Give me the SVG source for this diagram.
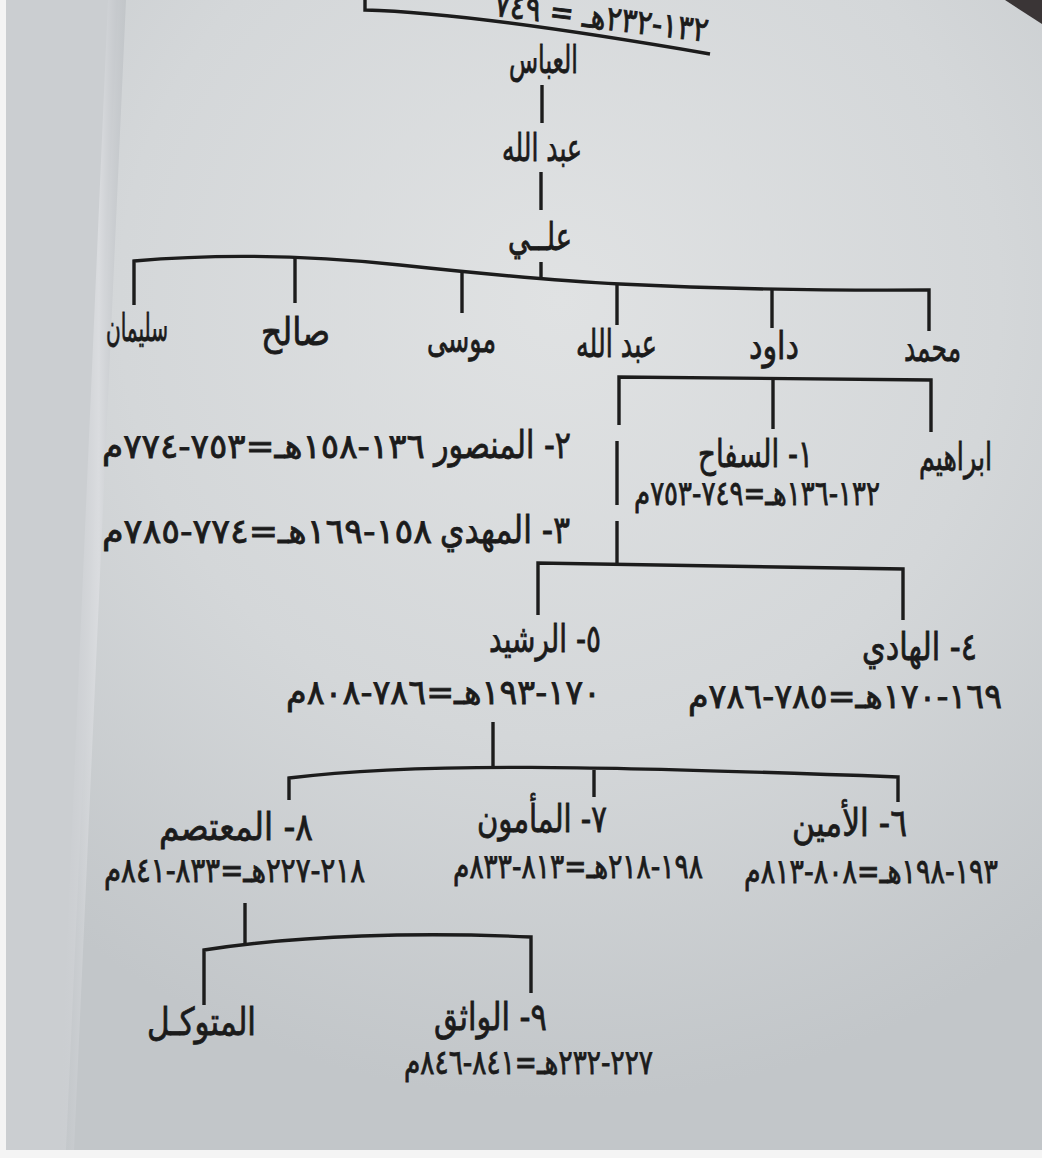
<svg xmlns="http://www.w3.org/2000/svg" width="1042" height="1158" viewBox="0 0 1042 1158">
  <defs>
    <radialGradient id="paper" cx="560" cy="300" r="800" gradientUnits="userSpaceOnUse">
      <stop offset="0" stop-color="#e0e2e3"/>
      <stop offset="0.55" stop-color="#d4d7d9"/>
      <stop offset="1" stop-color="#c2c6c9"/>
    </radialGradient>
    <linearGradient id="edge" x1="0" y1="0" x2="1" y2="0">
      <stop offset="0" stop-color="#c9ccd0" stop-opacity="0"/>
      <stop offset="0.6" stop-color="#dadcdf"/>
      <stop offset="1" stop-color="#b9bdc1" stop-opacity="0.6"/>
    </linearGradient>
    <style>
      .t { font-family: "DejaVu Sans", "Noto Sans", sans-serif; fill: #1b1b1b; stroke: #1b1b1b; stroke-width: 0.8; direction: rtl; font-weight: normal; }
      .n { font-size: 38px; }
      .d { font-size: 34px; }
      .s { text-anchor: start; }
      .ln { fill: none; stroke: #1c1c1c; stroke-width: 3.4; stroke-linecap: butt; }
    </style>
  </defs>

  <!-- photographed page background -->
  <rect x="0" y="0" width="1042" height="1158" fill="#f4f4f4"/>
  <rect x="6" y="0" width="1036" height="1150" fill="url(#paper)"/>
  <polygon points="6,0 118,0 66,1150 6,1150" fill="#cbced1"/>
  <polygon points="108,0 126,0 74,1150 58,1150" fill="url(#edge)"/>
  <polygon points="1005,0 1042,0 1042,24" fill="#3a3536"/>

  <!-- connectors -->
  <g id="connectors" class="ln">
    <path d="M365,0 V10 C450,12 600,35 710,54"/>
    <path d="M542,85 V123"/>
    <path d="M541,172 V210"/>
    <path d="M541,262 V278"/>
    <path d="M134,305 V261 Q260,250 400,265 Q540,280 620,284 Q760,291 929,290 V331"/>
    <path d="M295,257 V303"/>
    <path d="M462,271 V313"/>
    <path d="M617,284 V325"/>
    <path d="M772,290 V328"/>
    <path d="M619,425 V377 L931,380 V432"/>
    <path d="M773,378 V429"/>
    <path d="M617,441 V505"/>
    <path d="M617,521 V565"/>
    <path d="M538,615 V563 L903,569 V620"/>
    <path d="M493,722 V767"/>
    <path d="M289,800 V778 C420,762 600,766 898,777 V802"/>
    <path d="M594,770 V797"/>
    <path d="M245,903 V946"/>
    <path d="M204,1005 V950 C300,935 420,932 531,937 V993"/>
  </g>

  <!-- header text clipped by photo edge -->
  <g id="header">
    <text class="t d s" x="707" y="42" transform="rotate(7 707 42)" textLength="215" lengthAdjust="spacingAndGlyphs">١٣٢-٢٣٢هـ = ٧٤٩</text>
  </g>

  <g id="abbas"><text class="t n s" x="578" y="73" textLength="69" lengthAdjust="spacingAndGlyphs">العباس</text></g>
  <g id="abdallah1"><text class="t n s" x="582" y="161" textLength="80" lengthAdjust="spacingAndGlyphs">عبد الله</text></g>
  <g id="ali"><text class="t n s" x="572" y="250" textLength="64" lengthAdjust="spacingAndGlyphs">علــي</text></g>

  <g id="sulayman"><text class="t n s" x="168" y="341" textLength="62" lengthAdjust="spacingAndGlyphs">سليمان</text></g>
  <g id="salih"><text class="t n s" x="330" y="345" textLength="69" lengthAdjust="spacingAndGlyphs">صالح</text></g>
  <g id="musa"><text class="t n s" x="496" y="352" textLength="69" lengthAdjust="spacingAndGlyphs">موسى</text></g>
  <g id="abdallah2"><text class="t n s" x="657" y="357" textLength="81" lengthAdjust="spacingAndGlyphs">عبد الله</text></g>
  <g id="dawud"><text class="t n s" x="799" y="359" textLength="50" lengthAdjust="spacingAndGlyphs">داود</text></g>
  <g id="muhammad"><text class="t n s" x="961" y="361" textLength="57" lengthAdjust="spacingAndGlyphs">محمد</text></g>

  <g id="ibrahim"><text class="t n s" x="992" y="470" textLength="73" lengthAdjust="spacingAndGlyphs">ابراهيم</text></g>
  <g id="saffah">
    <text class="t n s" x="813" y="467" textLength="115" lengthAdjust="spacingAndGlyphs">١- السفاح</text>
    <text class="t d s" x="880" y="505" textLength="246" lengthAdjust="spacingAndGlyphs">١٣٢-١٣٦هـ=٧٤٩-٧٥٣م</text>
  </g>
  <g id="mansur">
    <text class="t n s" x="571" y="458" textLength="137" lengthAdjust="spacingAndGlyphs">٢- المنصور</text>
    <text class="t d s" x="425" y="458" textLength="323" lengthAdjust="spacingAndGlyphs">١٣٦-١٥٨هـ=٧٥٣-٧٧٤م</text>
  </g>
  <g id="mahdi">
    <text class="t n s" x="570" y="543" textLength="130" lengthAdjust="spacingAndGlyphs">٣- المهدي</text>
    <text class="t d s" x="432" y="543" textLength="330" lengthAdjust="spacingAndGlyphs">١٥٨-١٦٩هـ=٧٧٤-٧٨٥م</text>
  </g>

  <g id="rashid">
    <text class="t n s" x="601" y="652" textLength="112" lengthAdjust="spacingAndGlyphs">٥- الرشيد</text>
    <text class="t d s" x="601" y="704" textLength="315" lengthAdjust="spacingAndGlyphs">١٧٠-١٩٣هـ=٧٨٦-٨٠٨م</text>
  </g>
  <g id="hadi">
    <text class="t n s" x="977" y="660" textLength="115" lengthAdjust="spacingAndGlyphs">٤- الهادي</text>
    <text class="t d s" x="1002" y="708" textLength="314" lengthAdjust="spacingAndGlyphs">١٦٩-١٧٠هـ=٧٨٥-٧٨٦م</text>
  </g>

  <g id="mutasim">
    <text class="t n s" x="313" y="840" textLength="154" lengthAdjust="spacingAndGlyphs">٨- المعتصم</text>
    <text class="t d s" x="365" y="882" textLength="261" lengthAdjust="spacingAndGlyphs">٢١٨-٢٢٧هـ=٨٣٣-٨٤١م</text>
  </g>
  <g id="mamun">
    <text class="t n s" x="607" y="832" textLength="130" lengthAdjust="spacingAndGlyphs">٧- المأمون</text>
    <text class="t d s" x="703" y="878" textLength="250" lengthAdjust="spacingAndGlyphs">١٩٨-٢١٨هـ=٨١٣-٨٣٣م</text>
  </g>
  <g id="amin">
    <text class="t n s" x="907" y="836" textLength="115" lengthAdjust="spacingAndGlyphs">٦- الأمين</text>
    <text class="t d s" x="998" y="883" textLength="254" lengthAdjust="spacingAndGlyphs">١٩٣-١٩٨هـ=٨٠٨-٨١٣م</text>
  </g>

  <g id="mutawakkil"><text class="t n s" x="256" y="1035" textLength="109" lengthAdjust="spacingAndGlyphs">المتوكـل</text></g>
  <g id="wathiq">
    <text class="t n s" x="547" y="1030" textLength="113" lengthAdjust="spacingAndGlyphs">٩- الواثق</text>
    <text class="t d s" x="653" y="1074" textLength="249" lengthAdjust="spacingAndGlyphs">٢٢٧-٢٣٢هـ=٨٤١-٨٤٦م</text>
  </g>
</svg>
